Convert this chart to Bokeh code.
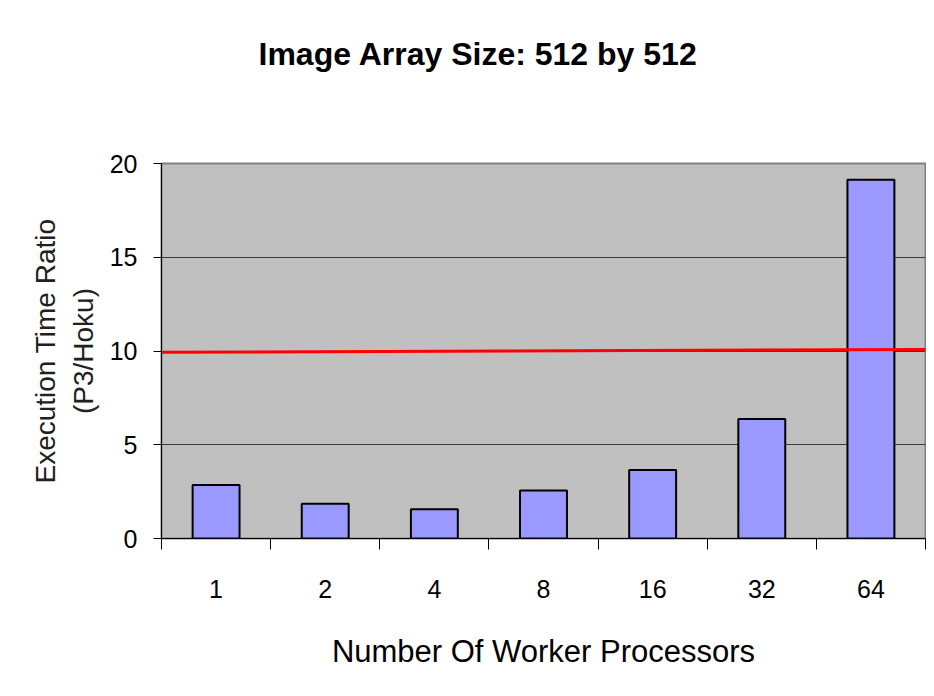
from bokeh.plotting import figure
from bokeh.models import Range1d, FixedTicker, Title
from bokeh.embed import file_html
from bokeh.resources import INLINE

categories = ["1", "2", "4", "8", "16", "32", "64"]
ratios = [2.86, 1.85, 1.56, 2.56, 3.66, 6.38, 19.13]
ref_line_y = [9.93, 10.08]
y_ticks = [0, 5, 10, 15, 20]
title_text = "Image Array Size:  512 by 512"

FONT = "Liberation Sans"

n = len(categories)
centers = [i + 0.5 for i in range(n)]
edges = list(range(n + 1))

p = figure(width=926, height=688, output_backend="svg", toolbar_location=None,
           x_range=Range1d(0, n), y_range=Range1d(0, 20),
           min_border_left=161, min_border_right=1, min_border_top=163,
           min_border_bottom=150)
p.title = None
p.background_fill_color = "#C0C0C0"
p.border_fill_color = "white"
p.outline_line_color = "#808080"
p.outline_line_width = 2

p.vbar(x=centers, top=ratios, width=0.43, fill_color="#9999FF",
       line_color="black", line_width=2)
p.line(x=[edges[0], edges[-1]], y=ref_line_y, line_color="red", line_width=3)

# grid
p.xgrid.visible = False
p.ygrid.ticker = FixedTicker(ticks=y_ticks)
p.ygrid.grid_line_color = "#3a3a3a"
p.ygrid.grid_line_width = 1

# x axis
xa = p.xaxis[0]
xa.ticker = FixedTicker(ticks=centers, minor_ticks=edges)
xa.major_label_overrides = {c: lab for c, lab in zip(centers, categories)}
xa.major_tick_line_color = None
xa.minor_tick_line_color = "black"
xa.minor_tick_out = 11
xa.minor_tick_in = 0
xa.axis_line_color = "black"
xa.major_label_text_font = FONT
xa.major_label_text_font_size = "25px"
xa.major_label_text_color = "black"
xa.major_label_standoff = 30
xa.axis_label = "Number Of Worker Processors"
xa.axis_label_text_font = FONT
xa.axis_label_text_font_size = "31px"
xa.axis_label_text_font_style = "normal"
xa.axis_label_text_color = "black"
xa.axis_label_standoff = 33

# y axis
ya = p.yaxis[0]
ya.ticker = FixedTicker(ticks=y_ticks)
ya.major_tick_out = 8
ya.major_tick_in = 0
ya.minor_tick_line_color = None
ya.axis_line_color = "black"
ya.major_label_text_font = FONT
ya.major_label_text_font_size = "25px"
ya.major_label_text_color = "black"
ya.major_label_standoff = 16
ya.axis_label = "Execution Time Ratio\n(P3/Hoku)"
ya.axis_label_text_font = FONT
ya.axis_label_text_font_size = "28px"
ya.axis_label_text_font_style = "normal"
ya.axis_label_text_color = "#202020"
ya.axis_label_standoff = 8

# spacer (closest to the frame) and the real title stacked above it
spacer = Title(text=" ", text_font_size="10px", standoff=74)
p.add_layout(spacer, "above")
main_title = Title(text=title_text, text_font=FONT, text_font_size="32px",
                   text_font_style="bold", text_color="black",
                   align="left", offset=97, standoff=10)
p.add_layout(main_title, "above")

open("out.html", "w").write(file_html(p, INLINE))
